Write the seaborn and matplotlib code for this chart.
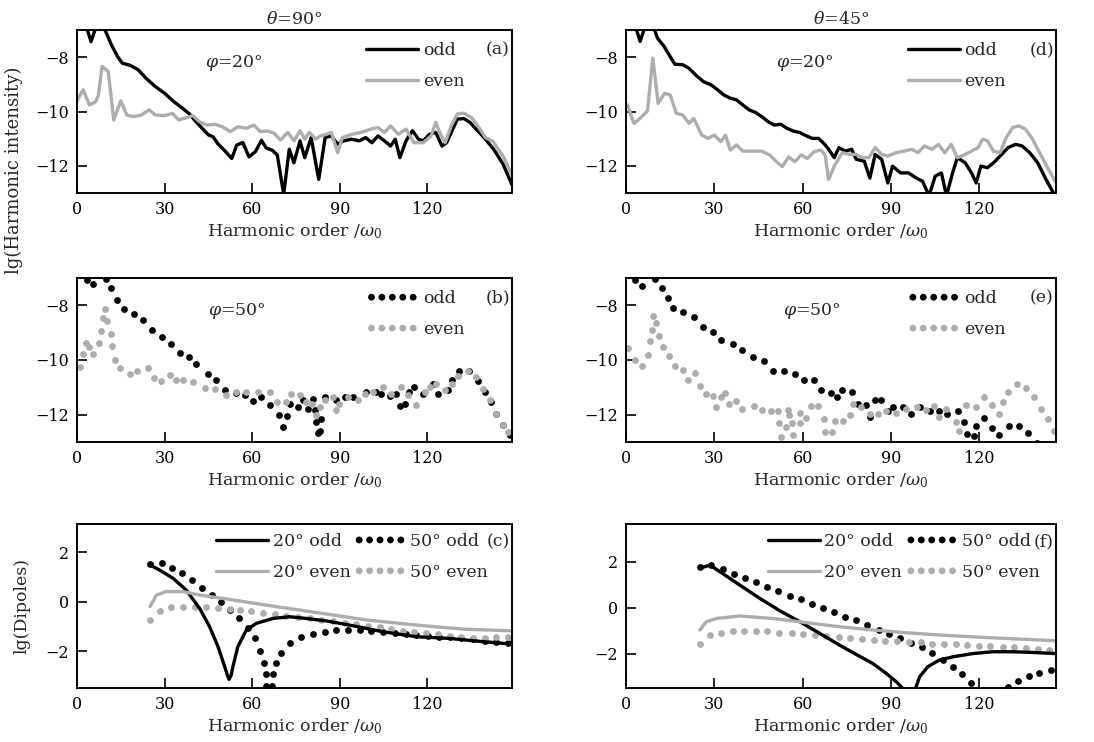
import matplotlib
matplotlib.use("Agg")
import matplotlib.pyplot as plt
import seaborn as sns

# ---------------- data ----------------
x_ticks = [0, 30, 60, 90, 120]
tick_labels_x = ["0", "30", "60", "90", "120"]
yt_spec = [-8, -10, -12]
yt_dip = [2, 0, -2]

# (a) theta=90, phi=20 (lines)
a_odd = [(0, -6.5), (3, -6.8), (4.8, -7.43), (6.5, -6.9), (8, -6.7), (9.6, -7.0), (11.8, -7.55),
         (13.9, -7.98), (15.5, -8.22), (18.2, -8.3), (20.9, -8.46), (23.6, -8.77), (26.8, -9.08),
         (30, -9.33), (33.2, -9.64), (35.9, -9.86), (38.6, -10.1), (40.7, -10.37), (42.9, -10.62),
         (45, -10.86), (46.6, -10.93), (48.2, -11.18), (50.4, -11.42), (53, -11.73), (54.7, -11.24),
         (56.8, -11.14), (58.9, -11.67), (61.1, -11.48), (63.2, -11.06), (64.8, -11.34), (66.9, -11.43),
         (68.6, -11.6), (70.8, -13.05), (72.7, -11.39), (74.3, -11.89), (76.4, -11.08), (78, -11.7),
         (80.2, -10.96), (82.8, -12.5), (85, -10.96), (87.1, -10.9), (89.3, -11.2), (91.4, -11.08),
         (94, -11.02), (96.7, -11.08), (98.9, -10.96), (101, -11.15), (103.1, -10.9), (105.3, -11.08),
         (107.4, -11.27), (109, -11.02), (110.6, -11.7), (112.7, -11.08), (114.9, -10.71), (117, -11.02),
         (118.6, -11.08), (120.7, -10.84), (122.9, -10.77), (125, -11.27), (126.6, -11.15),
         (128.7, -10.65), (130.3, -10.28), (132.5, -10.26), (134.6, -10.4), (136.7, -10.65),
         (138.5, -10.85), (140.5, -11.1), (142.8, -11.4), (146, -11.95), (149, -12.7)]
a_even = [(0, -9.61), (2.1, -9.2), (4.3, -9.76), (6.4, -9.64), (7.3, -9.41), (8.6, -8.34), (10.7, -8.53),
          (12.6, -10.31), (15, -9.61), (17.1, -10.13), (19.3, -10.19), (22, -10.13), (24.7, -9.94),
          (26.8, -10.13), (30, -10.15), (32.7, -10.07), (34.8, -10.31), (37.5, -10.23), (39.7, -10.15),
          (41.8, -10.37), (44.5, -10.5), (47.2, -10.47), (49.8, -10.56), (52.5, -10.74), (55.2, -10.56),
          (57.9, -10.62), (60.6, -10.5), (62.7, -10.74), (65.4, -10.72), (67.5, -10.8), (69.7, -11.05),
          (72.2, -10.77), (74.3, -11.08), (76.4, -10.71), (78, -11.02), (79.6, -10.77), (81.8, -11.02),
          (83.4, -10.9), (85.5, -10.84), (87.1, -10.77), (89.3, -11.52), (90.9, -10.96), (94.1, -10.84),
          (97.3, -10.77), (100.5, -10.65), (103.1, -10.59), (105.3, -10.77), (107.4, -10.53),
          (110.1, -10.84), (112.7, -10.65), (115.4, -11.15), (118.6, -11.15), (121.3, -10.9),
          (122.9, -10.4), (124.5, -10.84), (126.1, -11.15), (128.2, -10.53), (130.3, -10.09),
          (132.5, -10.06), (135.1, -10.22), (137.3, -10.53), (139.9, -10.96), (142.5, -11.1),
          (146, -11.66), (149, -12.33)]

# (d) theta=45, phi=20 (lines)
d_odd = [(0, -6.5), (3.3, -6.9), (4.8, -7.42), (6.4, -6.9), (8, -6.6), (9.5, -6.95), (10.7, -7.3),
         (12.9, -7.6), (15, -7.98), (16.6, -8.26), (19.3, -8.28), (21.4, -8.41), (23.6, -8.65),
         (26.3, -8.9), (28.9, -9.02), (31.1, -9.2), (33.2, -9.39), (35.4, -9.51), (37.5, -9.57),
         (39.7, -9.76), (41.8, -9.94), (43.9, -10.03), (46.1, -10.19), (48.2, -10.37), (50.4, -10.5),
         (52.5, -10.47), (54.7, -10.62), (56.8, -10.72), (58.9, -10.77), (61.1, -10.89), (63.2, -10.99),
         (65.4, -10.99), (67.5, -11.21), (68.8, -11.39), (70.7, -11.7), (72.3, -11.33), (74.5, -11.46),
         (76.6, -11.39), (78.2, -11.76), (80.9, -11.83), (82.8, -12.45), (84.6, -11.58), (86.8, -11.76),
         (88.9, -12.63), (90.5, -12.01), (93.2, -12.26), (95.9, -12.26), (98.6, -12.45), (100.7, -12.57),
         (102.9, -13.1), (105, -12.38), (107.1, -12.26), (108.8, -13.1), (110.9, -12.26), (112.5, -11.7),
         (115.2, -11.89), (117.3, -12.26), (118.9, -12.63), (120.5, -12.01), (122.7, -12.07),
         (124.8, -11.89), (127, -11.64), (129.7, -11.33), (132.3, -11.21), (134.5, -11.27),
         (137.1, -11.52), (139.8, -11.89), (142.6, -12.5), (145.4, -13.05), (146.5, -13.2)]
d_even = [(0.5, -9.76), (2.7, -10.44), (4.8, -10.25), (7.3, -9.98), (9.1, -8.04), (10.9, -9.7),
          (13.1, -9.33), (15, -9.39), (17.1, -10.07), (19.3, -10.13), (21.4, -10.44), (23, -10.25),
          (25.7, -10.87), (27.9, -10.99), (30, -10.87), (32.2, -11.11), (33.8, -10.87), (35.4, -11.42),
          (37.5, -11.23), (39.7, -11.46), (42.9, -11.46), (46.1, -11.46), (48.8, -11.6), (50.9, -11.83),
          (53.1, -12.03), (55.2, -11.67), (57.3, -11.85), (59.5, -11.6), (61.6, -11.73), (63.8, -11.48),
          (66.2, -11.42), (67.6, -11.6), (68.8, -12.5), (70.7, -12.01), (73.4, -11.52), (76.1, -11.58),
          (78.2, -11.58), (80.4, -11.7), (82.5, -11.7), (84.6, -11.33), (86.8, -11.58), (88.9, -11.64),
          (91.6, -11.52), (94.3, -11.46), (97, -11.39), (99.1, -11.52), (101.3, -11.27), (103.9, -11.39),
          (106.1, -11.21), (108.2, -11.52), (110.4, -11.21), (112.5, -11.7), (115.2, -11.58),
          (117.3, -11.46), (119.5, -11.33), (121.1, -11.02), (122.7, -11.08), (124.8, -11.46),
          (127, -11.52), (129.1, -10.96), (131.3, -10.59), (133.4, -10.53), (135.6, -10.65),
          (137.7, -10.96), (139.8, -11.39), (142.6, -11.96), (145.4, -12.51), (146.5, -12.7)]

# (b) theta=90, phi=50 (dots)
b_odd = [(3.4, -7.06), (5.5, -7.22), (10, -7.02), (11.8, -7.37), (13.7, -7.8), (16, -8.15), (19.4, -8.31),
         (22.6, -8.54), (25.8, -8.89), (29.2, -9.17), (32.3, -9.42), (35.2, -9.75), (38.4, -9.88),
         (40.9, -10.15), (44.9, -10.5), (47.7, -10.74), (50.6, -11.08), (54.6, -11.2), (57.4, -11.29),
         (60.3, -11.5), (63.1, -11.35), (66.2, -11.66), (69.2, -12.02), (70.5, -12.46), (71.9, -12.06),
         (73.1, -11.62), (75.7, -11.72), (77.4, -11.47), (79.1, -11.8), (80.8, -11.41), (81.4, -11.82),
         (82, -12.28), (82.5, -12.68), (83.1, -12.58), (83.7, -12.15), (84.8, -11.35), (88.8, -11.47),
         (91.7, -11.35), (94.5, -11.35), (99.1, -11.16), (102.5, -11.16), (104.2, -11.23),
         (107.1, -11.32), (109.4, -11.23), (110.5, -11.69), (112.2, -11.62), (113.7, -11.16),
         (115.6, -10.98), (118.5, -11.23), (121.9, -10.86), (123.7, -11.23), (127.1, -11.1),
         (128.3, -10.73), (130.8, -10.42), (134.2, -10.42), (137.3, -10.76), (139.6, -11.16),
         (141.9, -11.53), (143.6, -11.96), (145.9, -12.39), (148.2, -12.76)]
b_even = [(0.9, -10.27), (2.1, -9.78), (3, -9.36), (4.1, -9.52), (5.5, -9.78), (7.5, -9.36), (8.3, -8.95),
          (8.9, -8.46), (9.5, -8.15), (10.3, -8.58), (11.5, -9.06), (12.1, -9.49), (12.9, -9.99),
          (14.8, -10.3), (18.3, -10.51), (20.5, -10.42), (24.3, -10.3), (26.3, -10.65), (28.9, -10.76),
          (32, -10.55), (33.8, -10.74), (36.3, -10.74), (39.7, -10.8), (43.7, -11.02), (47.1, -11.05),
          (51.1, -11.29), (54.6, -11.17), (58, -11.17), (62, -11.17), (66, -11.17), (68.5, -11.54),
          (71.7, -11.54), (73.4, -11.26), (76.3, -11.29), (78.4, -11.54), (80.4, -11.6), (82, -12.03),
          (83.1, -11.72), (84.8, -11.47), (87.7, -11.35), (88.8, -11.84), (89.9, -11.6), (92.8, -11.35),
          (96.2, -11.47), (98.5, -11.23), (101.4, -11.17), (104.8, -10.98), (107.6, -11.23), (111, -10.98),
          (113.4, -11.29), (116.2, -11.66), (119.1, -11.17), (120.8, -10.98), (123.1, -10.86),
          (126, -11.1), (128.3, -10.86), (130.5, -10.58), (133.9, -10.39), (136.8, -10.61),
          (139.1, -11.05), (141.4, -11.48), (143.6, -11.96), (145.9, -12.39), (147.6, -12.64)]

# (e) theta=45, phi=50 (dots)
e_odd = [(3.1, -7.06), (5.3, -7.29), (9.8, -7.02), (12.1, -7.35), (14.4, -7.72), (16, -8.09), (19.4, -8.25),
         (23.1, -8.43), (26, -8.79), (29.4, -8.98), (32.4, -9.26), (36.4, -9.42), (39.4, -9.62),
         (43.2, -9.9), (46.8, -10.03), (49.9, -10.39), (53.6, -10.39), (57.3, -10.51), (60.3, -10.73),
         (63.7, -10.73), (66.3, -11.08), (69.5, -11.2), (71.6, -11.35), (73.4, -11.1), (76.8, -11.17),
         (78.8, -11.6), (81.4, -11.63), (82.7, -12.07), (84.4, -11.45), (86.7, -11.45), (88.9, -11.85),
         (90.6, -11.72), (94, -11.72), (96.8, -11.97), (99.7, -11.72), (103.1, -11.85), (106.2, -11.88),
         (108.9, -11.97), (112.7, -11.88), (114.6, -12.27), (115.7, -12.7), (118, -12.77), (118.9, -12.4),
         (121.7, -12.11), (124.3, -12.5), (126.8, -12.73), (129.9, -12.4), (133.3, -12.42),
         (136.4, -12.68), (139.5, -13.05)]
e_even = [(0.8, -9.56), (3.1, -9.99), (5.6, -10.22), (7.6, -9.81), (8.1, -9.32), (8.7, -8.89), (9, -8.39),
          (10.2, -8.66), (11.3, -9.11), (12.4, -9.53), (14.7, -9.87), (16.6, -10.22), (19.4, -10.36),
          (21.1, -10.73), (23.4, -10.49), (25.1, -10.95), (27.1, -11.25), (29.4, -11.31), (30.7, -11.72),
          (32.4, -11.35), (33.6, -11.2), (35, -11.6), (37.3, -11.51), (39.5, -11.78), (43.4, -11.69),
          (46.3, -11.82), (49.4, -11.88), (51.6, -11.88), (51.9, -12.31), (52.7, -12.8), (54.2, -12.46),
          (55.4, -12.03), (55.1, -11.82), (56.2, -12.31), (56.8, -12.74), (59, -12.31), (59, -11.94),
          (61.2, -12.12), (62.9, -11.69), (65.1, -11.69), (67.1, -12.16), (67.7, -12.62), (70, -12.62),
          (70.8, -12.23), (73.6, -12.22), (75.9, -12.01), (77, -11.6), (79.8, -11.72), (82.7, -11.97),
          (85.5, -11.97), (88.4, -11.85), (91.8, -11.94), (95.1, -11.78), (98.8, -11.72), (101.9, -11.82),
          (104.7, -11.69), (106.4, -12.08), (108.7, -11.78), (112.1, -12.26), (113, -12.58),
          (115.5, -11.66), (118.9, -11.72), (121.7, -11.35), (124.3, -11.63), (126.8, -11.97),
          (127.9, -11.55), (129.6, -11.17), (132.7, -10.86), (135.8, -11.02), (138.6, -11.35),
          (140.9, -11.78), (143.2, -12.15), (145.4, -12.58), (147.1, -12.95)]

# (c) theta=90 dipoles
c_odd20 = [(25, 1.49), (28.3, 1.28), (32.9, 0.95), (37.4, 0.47), (42, -0.27), (45.4, -1.01), (48.3, -1.82),
           (50.6, -2.64), (51.5, -2.98), (52.1, -3.15), (52.8, -2.98), (53.4, -2.64), (55.1, -1.82),
           (58, -1.15), (61.4, -0.88), (67.1, -0.68), (72.8, -0.61), (78.5, -0.68), (85.4, -0.78),
           (93.4, -0.95), (104.8, -1.22), (116.2, -1.42), (127.6, -1.49), (139, -1.62), (149, -1.72)]
c_even20 = [(25, -0.2), (27.2, 0.27), (30.6, 0.41), (36.3, 0.41), (42, 0.27), (53.4, 0.07), (64.8, -0.14),
            (76.3, -0.34), (87.7, -0.54), (99.1, -0.74), (110.5, -0.88), (121.9, -1.01), (133.3, -1.12),
            (149, -1.18)]
c_odd50 = [(25.1, 1.53), (29.2, 1.58), (32.6, 1.38), (36.1, 1.15), (39.5, 0.88), (42.9, 0.57), (46.3, 0.27),
           (49.4, -0.03), (52.5, -0.34), (55.5, -0.68), (58.6, -1.05), (60.8, -1.49), (62.6, -1.99),
           (64.0, -2.47), (64.6, -2.93), (64.8, -3.42), (66.9, -3.42), (67.1, -2.93), (68, -2.47),
           (70, -2.07), (72.8, -1.69), (76.8, -1.42), (80.8, -1.31), (84.8, -1.22), (88.8, -1.15),
           (92.8, -1.15), (96.8, -1.15), (100.8, -1.18), (104.8, -1.22), (108.8, -1.26), (112.6, -1.31),
           (116.2, -1.35), (120.2, -1.38), (124, -1.42), (127.9, -1.45), (131.6, -1.49), (135.6, -1.53),
           (139.6, -1.58), (143.6, -1.62), (147.6, -1.66)]
c_even50 = [(25.1, -0.74), (28.5, -0.36), (32.3, -0.23), (36.3, -0.23), (40.3, -0.23), (44.3, -0.23),
            (48.3, -0.27), (52.3, -0.31), (55.9, -0.34), (59.7, -0.36), (63.7, -0.45), (67.7, -0.5),
            (71.7, -0.57), (75.7, -0.61), (79.7, -0.65), (83.7, -0.74), (87.7, -0.78), (91.7, -0.85),
            (95.7, -0.92), (99.7, -0.99), (103.7, -1.04), (107.6, -1.12), (111.6, -1.18), (115.6, -1.24),
            (119.6, -1.28), (123.6, -1.32), (127.6, -1.38), (131.6, -1.42), (135.6, -1.46), (139.6, -1.49),
            (143.6, -1.42), (147.6, -1.42)]

# (f) theta=45 dipoles
f_odd20 = [(25.1, 1.72), (28.5, 1.86), (31.9, 1.57), (38.6, 0.99), (45.4, 0.41), (52.2, -0.13), (59, -0.61),
           (65.8, -1.12), (72.5, -1.63), (78.2, -2.04), (83.8, -2.43), (88.4, -2.87), (91.8, -3.23),
           (94, -3.52), (96, -4.3), (98.3, -3.52), (99.7, -3.01), (102.5, -2.57), (106.4, -2.28),
           (111, -2.14), (117.7, -2.0), (124.5, -1.92), (131.3, -1.92), (138.1, -1.95), (146, -2.0)]
f_even20 = [(25.1, -0.97), (27.3, -0.61), (30.7, -0.47), (38.6, -0.36), (49.9, -0.47), (61.2, -0.65),
            (72.5, -0.83), (83.8, -0.97), (95.1, -1.09), (106.4, -1.19), (117.7, -1.27), (129, -1.34),
            (146, -1.44)]
f_odd50 = [(25.1, 1.76), (29, 1.86), (32.8, 1.68), (36.6, 1.49), (40.3, 1.31), (44.1, 1.1), (47.9, 0.92),
           (51.6, 0.74), (55.6, 0.51), (59.3, 0.36), (63.2, 0.16), (66.9, -0.03), (70.6, -0.2),
           (74.5, -0.42), (78.2, -0.54), (81.9, -0.76), (85.8, -0.95), (89.3, -1.15), (93.2, -1.34),
           (96.8, -1.53), (100.6, -1.73), (104, -1.99), (107.6, -2.28), (111, -2.57), (114.1, -2.87),
           (117.2, -3.27), (129.6, -3.45), (133, -3.19), (136.7, -2.98), (140.3, -2.84), (144.3, -2.73)]
f_even50 = [(25.1, -1.56), (28.5, -1.19), (32.4, -1.09), (36.2, -1.02), (40, -1.0), (44, -1.0), (47.9, -1.02),
            (52, -1.09), (56.2, -1.12), (60.1, -1.15), (64.1, -1.19), (68, -1.24), (72.2, -1.27),
            (76.2, -1.31), (80.2, -1.37), (84.2, -1.41), (88, -1.44), (92.1, -1.45), (96, -1.48),
            (100, -1.51), (104, -1.56), (107.9, -1.59), (111.9, -1.6), (115.8, -1.63), (119.8, -1.66),
            (123.7, -1.67), (127.9, -1.7), (131.9, -1.73), (135.8, -1.77), (139.8, -1.8), (143.7, -1.85)]

# ---------------- style ----------------
sns.set_theme(style="ticks")
plt.rcParams["font.family"] = ["DejaVu Serif"]
plt.rcParams["mathtext.fontset"] = "dejavuserif"
plt.rcParams["axes.unicode_minus"] = True

BLACK = "#000000"
GRAY = "#adadad"
LW = 2.4
DOT = 24
TICK_FS = 11.5
LAB_FS = 12.5
LEG_FS = 12.5

W, H = 1094, 742
fig = plt.figure(figsize=(W / 100, H / 100), dpi=100)


def add_ax(l, r, t, b):
    return fig.add_axes([l / W, 1 - b / H, (r - l) / W, (b - t) / H])


def xy(pairs):
    return [p[0] for p in pairs], [p[1] for p in pairs]


def style_ax(ax, xmax, ylim, yticks):
    ax.set_xlim(0, xmax)
    ax.set_ylim(*ylim)
    ax.set_xticks(x_ticks)
    ax.set_xticklabels(tick_labels_x)
    ax.set_yticks(yticks)
    ax.tick_params(direction="in", length=7, width=1.2, labelsize=TICK_FS, pad=6,
                   colors="black", top=False, right=False)
    for s in ax.spines.values():
        s.set_visible(True)
        s.set_linewidth(1.4)
        s.set_color("black")
    ax.set_xlabel(r"Harmonic order /$\omega_0$", fontsize=LAB_FS, labelpad=2)
    ax.set_ylabel("")
    ax.set_facecolor("white")


def line(ax, pairs, color, label):
    x, y = xy(pairs)
    sns.lineplot(x=x, y=y, ax=ax, color=color, lw=LW, sort=False, estimator=None, legend=False)
    h = ax.lines[-1]
    h.set_label(label)
    h.set_solid_joinstyle("round")
    return h


def dots(ax, pairs, color, label):
    x, y = xy(pairs)
    sns.scatterplot(x=x, y=y, ax=ax, color=color, s=DOT, linewidth=0, legend=False)
    c = ax.collections[-1]
    c.set_label(label)
    return c


LX, RX = 77, 512
LX2, RX2 = 626, 1056
rows = [(30, 193), (278, 442), (524, 688)]

ax_a = add_ax(LX, RX, *rows[0])
ax_b = add_ax(LX, RX, *rows[1])
ax_c = add_ax(LX, RX, *rows[2])
ax_d = add_ax(LX2, RX2, *rows[0])
ax_e = add_ax(LX2, RX2, *rows[1])
ax_f = add_ax(LX2, RX2, *rows[2])

leg_kw = dict(frameon=False, fontsize=LEG_FS, handlelength=3.0, handletextpad=0.25,
              labelspacing=0.8, borderpad=0, borderaxespad=0, loc="upper left",
              scatterpoints=5, scatteryoffsets=[0.5])

# (a)
h1 = line(ax_a, a_odd, BLACK, "odd")
h2 = line(ax_a, a_even, GRAY, "even")
style_ax(ax_a, 149, (-13, -7), yt_spec)
ax_a.legend(handles=[h1, h2], bbox_to_anchor=(0.665, 0.925), **leg_kw)
ax_a.text(0.995, 0.877, "(a)", transform=ax_a.transAxes, ha="right", va="center", fontsize=LEG_FS)
ax_a.text(0.295, 0.80, r"$\varphi$=20°", transform=ax_a.transAxes, ha="left", va="center", fontsize=LAB_FS)
ax_a.set_title(r"$\theta$=90°", fontsize=LAB_FS, pad=4)

# (d)
h1 = line(ax_d, d_odd, BLACK, "odd")
h2 = line(ax_d, d_even, GRAY, "even")
style_ax(ax_d, 146, (-13, -7), yt_spec)
ax_d.legend(handles=[h1, h2], bbox_to_anchor=(0.655, 0.925), **leg_kw)
ax_d.text(0.995, 0.877, "(d)", transform=ax_d.transAxes, ha="right", va="center", fontsize=LEG_FS)
ax_d.text(0.35, 0.80, r"$\varphi$=20°", transform=ax_d.transAxes, ha="left", va="center", fontsize=LAB_FS)
ax_d.set_title(r"$\theta$=45°", fontsize=LAB_FS, pad=4)

# (b)
h1 = dots(ax_b, b_odd, BLACK, "odd")
h2 = dots(ax_b, b_even, GRAY, "even")
style_ax(ax_b, 149, (-13, -7), yt_spec)
ax_b.legend(handles=[h1, h2], bbox_to_anchor=(0.665, 0.925), **leg_kw)
ax_b.text(0.995, 0.877, "(b)", transform=ax_b.transAxes, ha="right", va="center", fontsize=LEG_FS)
ax_b.text(0.30, 0.80, r"$\varphi$=50°", transform=ax_b.transAxes, ha="left", va="center", fontsize=LAB_FS)

# (e)
h1 = dots(ax_e, e_odd, BLACK, "odd")
h2 = dots(ax_e, e_even, GRAY, "even")
style_ax(ax_e, 146, (-13, -7), yt_spec)
ax_e.legend(handles=[h1, h2], bbox_to_anchor=(0.655, 0.925), **leg_kw)
ax_e.text(0.995, 0.877, "(e)", transform=ax_e.transAxes, ha="right", va="center", fontsize=LEG_FS)
ax_e.text(0.365, 0.80, r"$\varphi$=50°", transform=ax_e.transAxes, ha="left", va="center", fontsize=LAB_FS)

# (c)
l1 = line(ax_c, c_odd20, BLACK, "20° odd")
l2 = line(ax_c, c_even20, GRAY, "20° even")
d1 = dots(ax_c, c_odd50, BLACK, "50° odd")
d2 = dots(ax_c, c_even50, GRAY, "50° even")
style_ax(ax_c, 149, (-3.5, 3.15), yt_dip)
ax_c.legend(handles=[l1, l2, d1, d2], ncol=2, columnspacing=0.2,
            bbox_to_anchor=(0.32, 0.945), **leg_kw)
ax_c.text(0.995, 0.89, "(c)", transform=ax_c.transAxes, ha="right", va="center", fontsize=LEG_FS)

# (f)
l1 = line(ax_f, f_odd20, BLACK, "20° odd")
l2 = line(ax_f, f_even20, GRAY, "20° even")
d1 = dots(ax_f, f_odd50, BLACK, "50° odd")
d2 = dots(ax_f, f_even50, GRAY, "50° even")
style_ax(ax_f, 146, (-3.5, 3.65), yt_dip)
ax_f.legend(handles=[l1, l2, d1, d2], ncol=2, columnspacing=0.2,
            bbox_to_anchor=(0.33, 0.945), **leg_kw)
ax_f.text(0.995, 0.89, "(f)", transform=ax_f.transAxes, ha="right", va="center", fontsize=LEG_FS)

# shared y labels
fig.text(14 / W, 1 - 170 / H, "lg(Harmonic intensity)", rotation=90, ha="center", va="center",
         fontsize=13)
fig.text(22 / W, 1 - 606 / H, "lg(Dipoles)", rotation=90, ha="center", va="center", fontsize=LAB_FS)

fig.savefig("out.png", dpi=100, facecolor="white")
